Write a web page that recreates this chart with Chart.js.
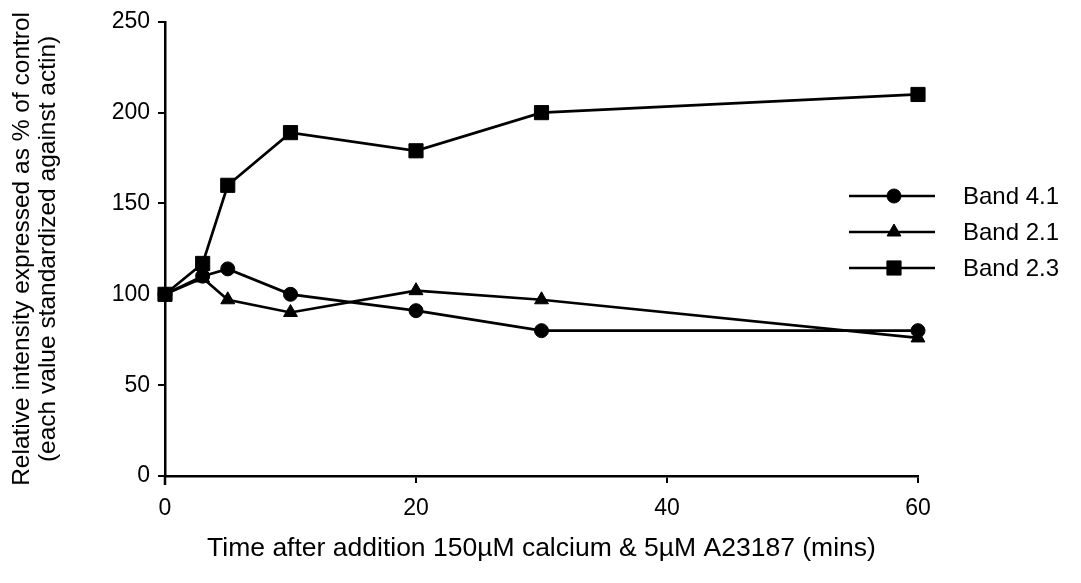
<!DOCTYPE html>
<html>
<head>
<meta charset="utf-8">
<script src="https://cdn.jsdelivr.net/npm/chart.js@4/dist/chart.umd.min.js"></script>
<style>
  html, body { margin: 0; padding: 0; background: #fff; }
  #wrap { width: 1081px; height: 583px; }
</style>
</head>
<body>
<div id="wrap"><canvas id="c" width="1081" height="583"></canvas></div>
<script>
// Sampling times (minutes) and relative band intensities (% of control)
const times = [0, 3, 5, 10, 20, 30, 60];
const band41 = [100, 110, 114, 100, 91, 80, 80];
const band21 = [100, 109, 97, 90, 102, 97, 76];
const band23 = [100, 117, 160, 189, 179, 200, 210];

const seriesNames = ['Band 4.1', 'Band 2.1', 'Band 2.3'];
const xTicks = [0, 20, 40, 60];
const yTicks = [0, 50, 100, 150, 200, 250];

const FONT = '"Liberation Sans", Arial, Helvetica, sans-serif';
const INK = '#000';

function pts(values) {
  return values.map((v, i) => ({ x: times[i], y: v }));
}

// Legend drawn to the right of the plot: line segment with the marker in its middle
const sideLegend = {
  id: 'sideLegend',
  afterDraw(chart) {
    const ctx = chart.ctx;
    const rows = [196, 232, 268];
    const x0 = 849, x1 = 935, xm = 894, xt = 963;
    ctx.save();
    chart.data.datasets.forEach((ds, i) => {
      const y = rows[i];
      ctx.strokeStyle = ds.borderColor;
      ctx.lineWidth = ds.borderWidth;
      ctx.beginPath();
      ctx.moveTo(x0, y);
      ctx.lineTo(x1, y);
      ctx.stroke();
      ctx.fillStyle = ds.pointBackgroundColor;
      ctx.strokeStyle = ds.pointBorderColor;
      ctx.lineWidth = 1;
      Chart.helpers.drawPoint(ctx, {
        pointStyle: ds.pointStyle,
        radius: ds.pointRadius,
        borderWidth: 1,
        rotation: 0
      }, xm, y);
      ctx.fillStyle = INK;
      ctx.font = '24px ' + FONT;
      ctx.textAlign = 'left';
      ctx.textBaseline = 'middle';
      ctx.fillText(ds.label, xt, y + 1);
    });
    ctx.restore();
  }
};

// Extends the vertical axis a little below the horizontal one
const axisStub = {
  id: 'axisStub',
  afterDraw(chart) {
    const { ctx, chartArea } = chart;
    ctx.save();
    ctx.strokeStyle = INK;
    ctx.lineWidth = 2.5;
    ctx.beginPath();
    ctx.moveTo(chartArea.left, chartArea.bottom);
    ctx.lineTo(chartArea.left, chartArea.bottom + 9);
    ctx.stroke();
    ctx.restore();
  }
};

function series(label, values, style, radius) {
  return {
    label: label,
    data: pts(values),
    borderColor: INK,
    borderWidth: 2.7,
    backgroundColor: INK,
    pointStyle: style,
    pointRadius: radius,
    pointHoverRadius: radius,
    pointBackgroundColor: INK,
    pointBorderColor: INK,
    pointBorderWidth: 1,
    tension: 0,
    fill: false,
    clip: false
  };
}

new Chart(document.getElementById('c'), {
  type: 'line',
  data: {
    datasets: [
      series(seriesNames[0], band41, 'circle', 7),
      series(seriesNames[1], band21, 'triangle', 8),
      series(seriesNames[2], band23, 'rect', 10)
    ]
  },
  options: {
    responsive: false,
    animation: false,
    events: [],
    layout: { padding: { left: 0, top: 16, right: 163, bottom: 0 } },
    plugins: {
      legend: { display: false },
      tooltip: { enabled: false }
    },
    scales: {
      x: {
        type: 'linear',
        min: 0,
        max: 60,
        afterBuildTicks(scale) { scale.ticks = xTicks.map(v => ({ value: v })); },
        afterFit(scale) { scale.height = 107; },
        border: { display: true, color: INK, width: 2.5 },
        grid: { drawOnChartArea: false, drawTicks: true, tickLength: 7, color: INK, lineWidth: 2 },
        ticks: { color: INK, padding: 12, font: { family: FONT, size: 23 } },
        title: {
          display: true,
          text: 'Time after addition 150\u00b5M calcium & 5\u00b5M A23187 (mins)',
          color: INK,
          font: { family: FONT, size: 26.5 },
          padding: { top: 0, bottom: 18 }
        }
      },
      y: {
        min: 0,
        max: 250,
        afterBuildTicks(scale) { scale.ticks = yTicks.map(v => ({ value: v })); },
        afterFit(scale) { scale.width = 165; },
        border: { display: true, color: INK, width: 2.5 },
        grid: { drawOnChartArea: false, drawTicks: true, tickLength: 7, color: INK, lineWidth: 2 },
        ticks: { color: INK, padding: 8, font: { family: FONT, size: 23 } },
        title: {
          display: true,
          text: ['Relative intensity expressed as % of control', '(each value standardized against actin)'],
          color: INK,
          font: { family: FONT, size: 24.5, lineHeight: 1.06 },
          padding: { top: 9, bottom: 0 }
        }
      }
    }
  },
  plugins: [sideLegend, axisStub]
});
</script>
</body>
</html>
